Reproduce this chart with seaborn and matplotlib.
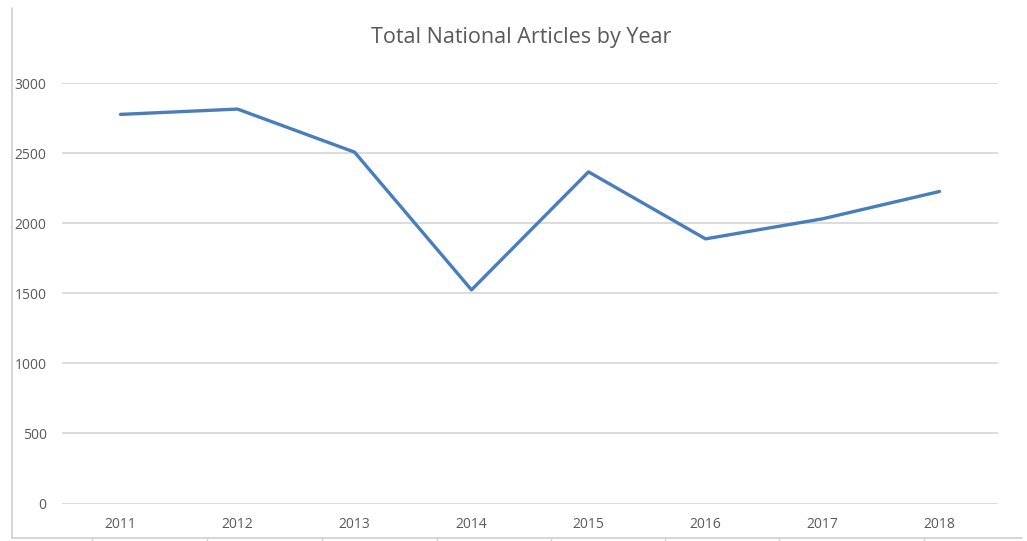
import matplotlib
matplotlib.use("Agg")
import matplotlib.pyplot as plt
from matplotlib.lines import Line2D
import seaborn as sns
import pandas as pd

years = ["2011", "2012", "2013", "2014", "2015", "2016", "2017", "2018"]
articles = [2776, 2814, 2507, 1524, 2366, 1888, 2031, 2226]
y_ticks = [0, 500, 1000, 1500, 2000, 2500, 3000]
title = "Total National Articles by Year"

sns.set_theme(style="white")
plt.rcParams["font.family"] = ["Open Sans", "DejaVu Sans"]

df = pd.DataFrame({"year": years, "articles": articles})

fig = plt.figure(figsize=(10.27, 5.41), dpi=100)
ax = fig.add_axes([62 / 1027, 37.5 / 541, 936 / 1027, 420.5 / 541])

sns.lineplot(data=df, x="year", y="articles", ax=ax, color="#4A7EBB",
             linewidth=2.4, sort=False, solid_capstyle="round")

ax.set_xlim(-0.5, len(years) - 0.5)
ax.set_ylim(0, 3000)
ax.set_yticks(y_ticks)
ax.set_yticklabels([str(v) for v in y_ticks])
ax.yaxis.grid(True, color="#D6D6D6", linewidth=1.2)
ax.xaxis.grid(False)
for s in ax.spines.values():
    s.set_visible(False)
ax.tick_params(axis="both", length=0, colors="#595959", labelsize=10)
ax.tick_params(axis="y", pad=11)
ax.tick_params(axis="x", pad=10)
ax.set_xlabel("")
ax.set_ylabel("")

fig.text(521 / 1027, 1 - 37 / 541, title, ha="center", va="center",
         fontsize=15.5, color="#595959")

# outer chart-area border (left and bottom edges) with small ticks below
frame_color = "#D0D0D0"
fig.add_artist(Line2D([12 / 1027, 12 / 1027], [1 - 8 / 541, 1 - 538 / 541],
                      transform=fig.transFigure, color=frame_color, linewidth=1.2))
fig.add_artist(Line2D([12 / 1027, 1022 / 1027], [1 - 538 / 541, 1 - 538 / 541],
                      transform=fig.transFigure, color=frame_color, linewidth=1.2))
for px in [92, 207, 322, 437, 551, 665, 779, 924]:
    fig.add_artist(Line2D([px / 1027, px / 1027], [1 - 538 / 541, 0],
                          transform=fig.transFigure, color=frame_color, linewidth=1.0))

fig.savefig("out.png", dpi=100)
